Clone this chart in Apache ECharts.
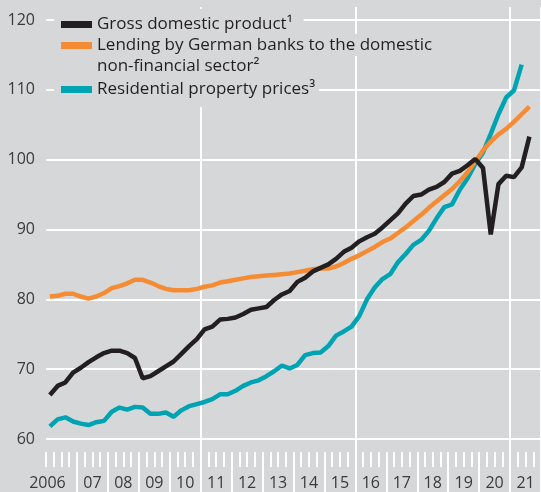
<!DOCTYPE html>
<html>
<head>
<meta charset="utf-8">
<script src="https://cdn.jsdelivr.net/npm/echarts@6/dist/echarts.min.js"></script>
<style>
  html, body { margin: 0; padding: 0; background: #d6d7d9; }
  #chart { width: 541px; height: 492px; }
</style>
</head>
<body>
<div id="chart"></div>
<script>
// year labels on the x axis (one band per year)
const yearLabels = ['2006', '07', '08', '09', '10', '11', '12', '13', '14', '15', '16', '17', '18', '19', '20', '21'];
const firstYear = 2006;

// quarterly index values, 2006 Q1 onwards
const gdp = [
  66.3, 67.6, 68.1, 69.5,
  70.2, 71.0, 71.7, 72.3,
  72.65, 72.65, 72.3, 71.6,
  68.7, 69.0, 69.7, 70.4,
  71.1, 72.2, 73.3, 74.3,
  75.7, 76.1, 77.1, 77.2,
  77.4, 77.9, 78.5, 78.7,
  78.9, 79.9, 80.7, 81.2,
  82.5, 83.1, 84.0, 84.5,
  85.0, 85.8, 86.8, 87.4,
  88.3, 88.9, 89.4, 90.3,
  91.3, 92.3, 93.7, 94.8,
  95.0, 95.7, 96.1, 96.8,
  98.0, 98.4, 99.2, 100.1,
  98.8, 89.3, 96.5, 97.7,
  97.5, 98.9, 103.3
];
const lending = [
  80.4, 80.5, 80.8, 80.8,
  80.4, 80.1, 80.4, 80.9,
  81.6, 81.9, 82.3, 82.8,
  82.8, 82.4, 81.9, 81.5,
  81.3, 81.3, 81.3, 81.5,
  81.8, 82.0, 82.4, 82.6,
  82.8, 83.0, 83.2, 83.3,
  83.4, 83.5, 83.6, 83.7,
  83.9, 84.1, 84.3, 84.4,
  84.4, 84.7, 85.2, 85.8,
  86.3, 86.9, 87.5, 88.2,
  88.7, 89.5, 90.3, 91.2,
  92.1, 93.1, 94.0, 94.9,
  95.8, 96.9, 98.2, 99.7,
  101.3, 102.6, 103.6, 104.4,
  105.4, 106.5, 107.6
];
const property = [
  61.8, 62.8, 63.1, 62.5,
  62.2, 62.0, 62.4, 62.6,
  63.9, 64.5, 64.2, 64.6,
  64.5, 63.6, 63.6, 63.8,
  63.2, 64.1, 64.7, 65.0,
  65.3, 65.7, 66.4, 66.4,
  66.9, 67.6, 68.1, 68.4,
  69.0, 69.7, 70.5, 70.1,
  70.6, 72.0, 72.3, 72.4,
  73.3, 74.8, 75.4, 76.1,
  77.6, 80.0, 81.7, 82.9,
  83.6, 85.3, 86.5, 87.8,
  88.5, 89.8, 91.6, 93.2,
  93.6, 95.7, 97.3, 99.4,
  101.0, 103.7, 106.5, 108.9,
  109.9, 113.6
];

// legend rows (the lending entry spans two rows)
const legendRows = [
  { name: 'gdp', text: 'Gross domestic product¹', top: 9, padding: [4.5, 11, 0, 7], lineHeight: 22 },
  { name: 'lending', text: 'Lending by German banks to the domestic', top: 34, padding: [1, 5, 0, 7], lineHeight: 21 },
  { name: 'lending', text: 'non-financial sector²', top: 56, padding: [0, 5, 0, 7], lineHeight: 21, noIcon: true },
  { name: 'property', text: 'Residential property prices³', top: 77, padding: [1.5, 4, 6.5, 7], lineHeight: 22 }
];

// quarter categories (one band per quarter)
const quarters = [];
for (let y = 0; y < yearLabels.length; y++) {
  for (let q = 1; q <= 4; q++) quarters.push((firstYear + y) + 'Q' + q);
}

const bg = '#d6d7d9';
const font = 'Open Sans';
const textColor = '#231f20';
const labelColor = '#3a3a3a';

let option = {
  backgroundColor: bg,
  animation: false,
  grid: { left: 46, right: 0, top: 7, bottom: 53 },
  legend: legendRows.map(row => ({
    data: [row.name],
    left: 54,
    top: row.top,
    orient: 'vertical',
    padding: row.padding,
    backgroundColor: bg,
    icon: row.noIcon ? 'none' : 'rect',
    itemWidth: 31,
    itemHeight: 7,
    selectedMode: false,
    formatter: () => row.text,
    textStyle: {
      fontFamily: font,
      fontSize: 17,
      color: textColor,
      lineHeight: row.lineHeight
    }
  })),
  xAxis: [
    {
      // quarters: carries the series and the short ticks
      type: 'category',
      data: quarters,
      position: 'bottom',
      offset: 13,
      boundaryGap: true,
      axisLine: { show: false },
      axisTick: { show: true, interval: 0, length: 15, lineStyle: { color: '#fff', width: 2 } },
      axisLabel: { show: false },
      splitLine: { show: false }
    },
    {
      // years: labels and long ticks
      type: 'category',
      data: yearLabels,
      position: 'bottom',
      offset: 13,
      boundaryGap: true,
      axisLine: { show: false },
      axisTick: { show: true, interval: i => i > 0, length: 40, lineStyle: { color: '#fff', width: 2 } },
      axisLabel: {
        interval: 0,
        margin: 23,
        fontFamily: font,
        fontSize: 16,
        color: labelColor,
        formatter: (v, i) => (i === 0 ? '{first|' + v + '}' : v),
        rich: { first: { fontFamily: font, fontSize: 16, color: labelColor, padding: [0, 28, 0, 0] } }
      },
      splitLine: { show: false }
    },
    {
      // five-year divider lines
      type: 'category',
      data: yearLabels,
      position: 'bottom',
      offset: 0,
      boundaryGap: true,
      axisLine: { show: false },
      axisTick: { show: true, interval: i => i > 0 && i % 5 === 0, length: 53, lineStyle: { color: '#fff', width: 2 } },
      axisLabel: { show: false },
      splitLine: { show: true, interval: i => i > 0 && i % 5 === 0, lineStyle: { color: '#fff', width: 2 } }
    }
  ],
  yAxis: {
    type: 'value',
    min: 60,
    max: 121.86,
    interval: 10,
    axisLine: { show: false },
    axisTick: { show: false },
    axisLabel: { margin: 11, fontFamily: font, fontSize: 16, color: labelColor, showMaxLabel: false },
    splitLine: { show: true, showMaxLine: false, lineStyle: { color: '#fff', width: 2 } }
  },
  series: [
    {
      name: 'property',
      type: 'line',
      data: property,
      symbol: 'none',
      color: '#00a3b1',
      lineStyle: { width: 4.5, color: '#00a3b1' }
    },
    {
      name: 'lending',
      type: 'line',
      data: lending,
      symbol: 'none',
      color: '#f58b33',
      lineStyle: { width: 4.5, color: '#f58b33' }
    },
    {
      name: 'gdp',
      type: 'line',
      data: gdp,
      symbol: 'none',
      color: '#231f20',
      lineStyle: { width: 4.5, color: '#231f20' }
    }
  ]
};

var chart = echarts.init(document.getElementById('chart'));
chart.setOption(option);
window.addEventListener('resize', () => {
  chart.resize();
});
</script>
</body>
</html>
